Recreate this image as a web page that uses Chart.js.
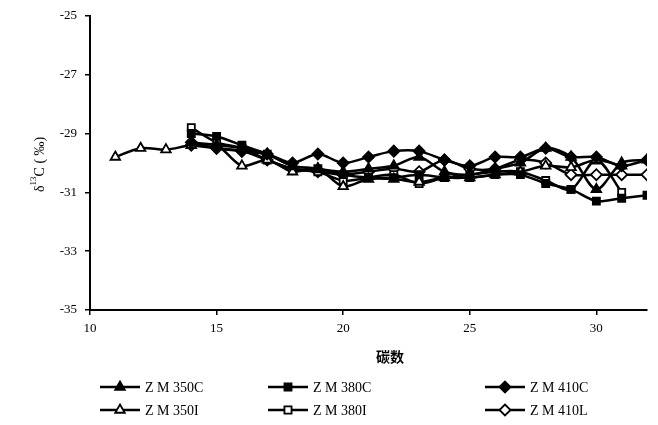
<!DOCTYPE html>
<html>
<head>
<meta charset="utf-8">
<script src="https://cdn.jsdelivr.net/npm/chart.js@4.4.0/dist/chart.umd.min.js"></script>
<style>
  html, body { margin: 0; padding: 0; background: #fff; }
  #wrap { width: 658px; height: 425px; }
</style>
</head>
<body>
<div id="wrap"><canvas id="c13Chart" width="658" height="425"></canvas></div>
<script>
// carbon numbers
const carbons = [11, 12, 13, 14, 15, 16, 17, 18, 19, 20, 21, 22, 23, 24, 25, 26, 27, 28, 29, 30, 31, 32];

// delta 13C values (per mil), null = no sample
const zm350c = [null, null, null, -29.3, -29.4, -29.5, -29.7, -30.1, -30.2, -30.3, -30.2, -30.1, -29.8, -30.3, -30.4, -30.2, -30.0, -29.5, -29.8, -30.9, -30.0, -29.9];
const zm380c = [null, null, null, -29.0, -29.1, -29.4, -29.7, -30.1, -30.2, -30.4, -30.5, -30.5, -30.4, -30.5, -30.5, -30.4, -30.4, -30.7, -30.9, -31.3, -31.2, -31.1];
const zm410c = [null, null, null, -29.3, -29.5, -29.6, -29.7, -30.0, -29.7, -30.0, -29.8, -29.6, -29.6, -29.9, -30.1, -29.8, -29.8, -29.5, -29.8, -29.8, -30.1, -29.9];
const zm350i = [-29.8, -29.5, -29.55, -29.4, -29.4, -30.1, -29.9, -30.3, -30.2, -30.8, -30.55, -30.55, -30.65, -30.5, -30.5, -30.4, -30.3, -30.1, -30.15, -29.9, -30.1, null];
const zm380i = [null, null, null, -28.8, -29.3, -29.5, -29.9, -30.2, -30.3, -30.6, -30.5, -30.4, -30.7, -30.5, -30.4, -30.3, -30.3, -30.6, -30.9, -29.9, -31.0, null];
const zm410l = [null, null, null, -29.4, -29.5, -29.6, -29.9, -30.2, -30.3, -30.4, -30.3, -30.2, -30.3, -29.9, -30.2, -30.2, -29.9, -30.0, -30.4, -30.4, -30.4, -30.4];

const xTicks = [10, 15, 20, 25, 30];
const yTicks = [-25, -27, -29, -31, -33, -35];

const serif = '"Liberation Serif", "DejaVu Serif", serif';

function toPoints(arr) {
    return carbons.map((c, i) => ({ x: c, y: arr[i] })).filter(p => p.y !== null);
}

// label, values, marker, filled?
const series = [
    ['Z M 350C', zm350c, 'triangle', true],
    ['Z M 380C', zm380c, 'rect', true],
    ['Z M 410C', zm410c, 'rectRot', true],
    ['Z M 350I', zm350i, 'triangle', false],
    ['Z M 380I', zm380i, 'rect', false],
    ['Z M 410L', zm410l, 'rectRot', false]
];

const datasets = series.map(s => ({
    label: s[0],
    data: toPoints(s[1]),
    borderColor: '#000',
    borderWidth: 2.5,
    pointStyle: s[2],
    pointRadius: s[2] === 'rect' ? 5 : 5.5,
    pointBackgroundColor: s[3] ? '#000' : '#fff',
    pointBorderColor: '#000',
    pointBorderWidth: 1.8,
    fill: false,
    tension: 0.3
}));

// draws y title, x title and the 3x2 legend
const extras = {
    id: 'extras',
    afterDraw(chart) {
        const c = chart.ctx;
        c.save();
        c.fillStyle = '#000';

        // y axis title: delta 13 C (per mil)
        c.translate(40, 158);
        c.rotate(-Math.PI / 2);
        c.textBaseline = 'middle';
        c.font = '14px ' + serif;
        let x = -34;
        c.fillText('δ', x, 0);
        x += c.measureText('δ').width;
        c.font = '9px ' + serif;
        c.fillText('13', x, -6);
        x += c.measureText('13').width;
        c.font = '14px ' + serif;
        c.fillText('C ( ‰)', x, 0);
        c.setTransform(1, 0, 0, 1, 0, 0);

        // x axis title
        c.font = 'bold 14px "Noto Sans CJK SC"';
        c.textAlign = 'center';
        c.fillText('碳数', 390, 357);

        // legend
        const cols = [100, 268, 485];
        const rows = [387, 410];
        c.textAlign = 'left';
        c.font = '14px ' + serif;
        chart.data.datasets.forEach((ds, i) => {
            const lx = cols[i % 3];
            const ly = rows[Math.floor(i / 3)];
            c.strokeStyle = '#000';
            c.lineWidth = 2.5;
            c.beginPath();
            c.moveTo(lx, ly);
            c.lineTo(lx + 40, ly);
            c.stroke();
            c.fillStyle = ds.pointBackgroundColor;
            c.lineWidth = 1.8;
            Chart.helpers.drawPoint(c, { pointStyle: ds.pointStyle, radius: ds.pointRadius, rotation: 0, borderWidth: 1.8 }, lx + 20, ly);
            c.fillStyle = '#000';
            c.textBaseline = 'middle';
            c.fillText(ds.label, lx + 45, ly + 1);
        });
        c.restore();
    }
};

new Chart(document.getElementById('c13Chart'), {
    type: 'line',
    data: { datasets: datasets },
    plugins: [extras],
    options: {
        responsive: false,
        animation: false,
        layout: { padding: { top: 12, right: 11, left: 0, bottom: 0 } },
        plugins: {
            legend: { display: false },
            tooltip: { enabled: false }
        },
        scales: {
            x: {
                type: 'linear',
                min: 10,
                max: 32,
                afterBuildTicks: axis => { axis.ticks = xTicks.map(v => ({ value: v })); },
                afterFit: axis => { axis.height = 115; },
                ticks: { color: '#000', font: { family: serif, size: 13 }, padding: 6, maxRotation: 0 },
                grid: { display: true, drawOnChartArea: false, drawTicks: true, tickLength: 5, color: '#000', lineWidth: 1.5 },
                border: { display: true, color: '#000', width: 2 }
            },
            y: {
                min: -35,
                max: -25,
                afterBuildTicks: axis => { axis.ticks = yTicks.map(v => ({ value: v })); },
                afterFit: axis => { axis.width = 90; },
                ticks: { color: '#000', font: { family: serif, size: 13 }, padding: 8 },
                grid: { display: true, drawOnChartArea: false, drawTicks: true, tickLength: 5, color: '#000', lineWidth: 1.5 },
                border: { display: true, color: '#000', width: 2 }
            }
        }
    }
});
</script>
</body>
</html>
